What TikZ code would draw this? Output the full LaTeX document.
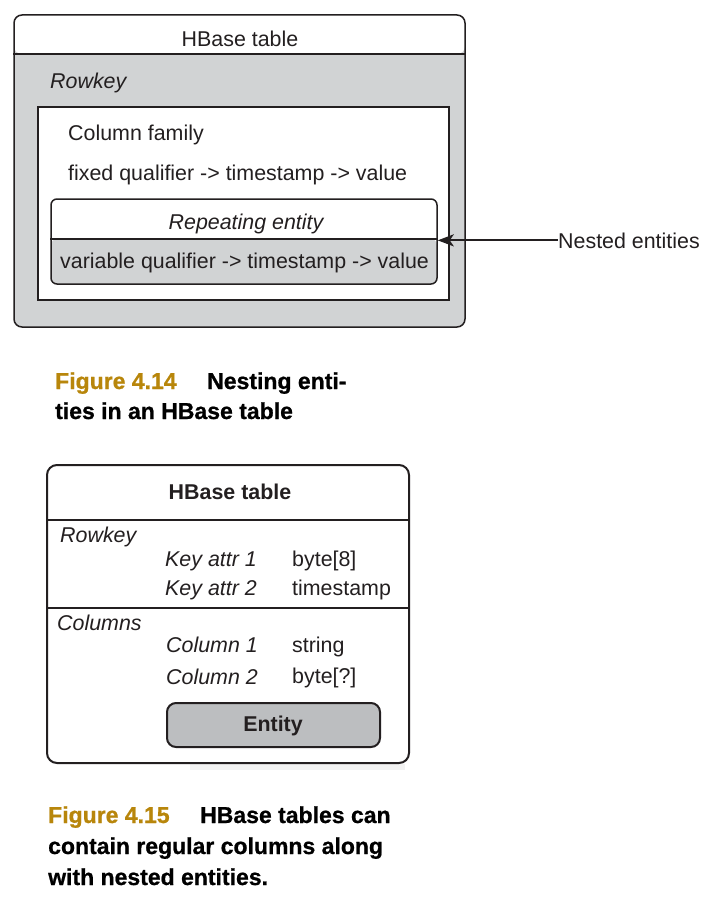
\documentclass[tikz,border=0pt]{standalone}
\usepackage{fontspec}
\setmainfont{Liberation Sans}
\newfontfamily\capfont[FakeBold=0.8]{Liberation Sans Bold}
\usetikzlibrary{arrows.meta}
\definecolor{bgray}{HTML}{D1D3D4}
\definecolor{egray}{HTML}{BCBEC0}
\definecolor{gold}{HTML}{B8860B}
\definecolor{ink}{HTML}{231F20}
\tikzset{
  txt/.style={inner sep=0pt, anchor=base west, text=ink, font=\fontsize{21.4}{25}\selectfont},
  txtc/.style={inner sep=0pt, anchor=base, text=ink, font=\fontsize{21.4}{25}\selectfont},
  itxt/.style={txt, font=\fontsize{21.4}{25}\selectfont\itshape},
  captxt/.style={inner sep=0pt, anchor=base west, font=\fontsize{23}{27}\capfont},
  capnum/.style={captxt, text=gold},
  boxline/.style={draw=ink, line width=1.5pt},
}
\begin{document}
\begin{tikzpicture}[x=1pt,y=-1pt]
\useasboundingbox (0,0) rectangle (706,912);
\fill[white] (0,0) rectangle (706,912);

% ---------- Figure 4.14 ----------
\node[boxline, rounded corners=8pt, fill=bgray, minimum width=451pt, minimum height=312pt, inner sep=0pt,
  path picture={\fill[white] (path picture bounding box.north west) rectangle ([yshift=-39pt]path picture bounding box.north east);}]
  (t1) at (239.5,171) {};
\draw[boxline] (t1.west |- 0,54) -- (t1.east |- 0,54);
\node[txtc] (t1title) at (240,47) {HBase table};
\node[itxt] (rk1) at (50,89) {Rowkey};

\node[draw=ink, line width=2pt, fill=white, minimum width=411pt, minimum height=193pt, inner sep=0pt]
  (cf) at (243.5,203.5) {};
\node[txt] (cfl) at (68,141) {Column family};
\node[txt] (fq) at (68,180) {fixed qualifier -> timestamp -> value};

\node[boxline, rounded corners=6pt, fill=white, minimum width=386pt, minimum height=85pt, inner sep=0pt,
  path picture={\fill[bgray] (path picture bounding box.south west) rectangle ([yshift=45pt]path picture bounding box.south east);}]
  (rep) at (244,241.5) {};
\draw[boxline] (rep.west |- 0,239) -- (rep.east |- 0,239);
\node[txtc, font=\fontsize{21.4}{25}\selectfont\itshape] (repl) at (246,229) {Repeating entity};
\node[txt] (vq) at (60,268) {variable qualifier -> timestamp -> value};

\node[txt] (nested) at (558,248) {Nested entities};
\draw[draw=ink, line width=2.2pt, -{Stealth[length=16pt,width=12pt,inset=4pt]}] (nested.west) -- (rep.east |- nested.west);

\node[capnum] (c1n) at (55,389) {Figure 4.14};
\node[captxt] (c1a) at (207,389) {Nesting enti-};
\node[captxt] (c1b) at (55,419) {ties in an HBase table};

% ---------- Figure 4.15 ----------
\fill[black!5] (190,764) rectangle (405,770);
\node[draw=ink, line width=2pt, rounded corners=10pt, fill=white, minimum width=362pt, minimum height=298pt, inner sep=0pt]
  (t2) at (228,614) {};
\draw[draw=ink, line width=2pt] (t2.west |- 0,519.5) -- (t2.east |- 0,519.5);
\draw[draw=ink, line width=2pt] (t2.west |- 0,607.5) -- (t2.east |- 0,607.5);
\node[txtc, font=\fontsize{21.4}{25}\selectfont\bfseries] (t2title) at (230,499) {HBase table};

\node[itxt] (rk2) at (60,542) {Rowkey};
\node[itxt] (ka1) at (165,566) {Key attr 1};
\node[txt] (kt1) at (292,566) {byte[8]};
\node[itxt] (ka2) at (165,595) {Key attr 2};
\node[txt] (kt2) at (292,595) {timestamp};

\node[itxt] (cols) at (57,630) {Columns};
\node[itxt] (c1) at (166,652) {Column 1};
\node[txt] (c1t) at (292,652) {string};
\node[itxt] (c2) at (166,684) {Column 2};
\node[txt] (c2t) at (292,683) {byte[?]};

\node[draw=ink, line width=2pt, rounded corners=9pt, fill=egray, minimum width=213pt, minimum height=44pt, inner sep=0pt]
  (ent) at (273.5,725) {};
\node[txtc, font=\fontsize{21.4}{25}\selectfont\bfseries] (entl) at (273,731) {Entity};

\node[capnum] (c2n) at (48,823) {Figure 4.15};
\node[captxt] (c2a) at (200,823) {HBase tables can};
\node[captxt] (c2b) at (48,854) {contain regular columns along};
\node[captxt] (c2c) at (48,885) {with nested entities.};
\end{tikzpicture}
\end{document}
